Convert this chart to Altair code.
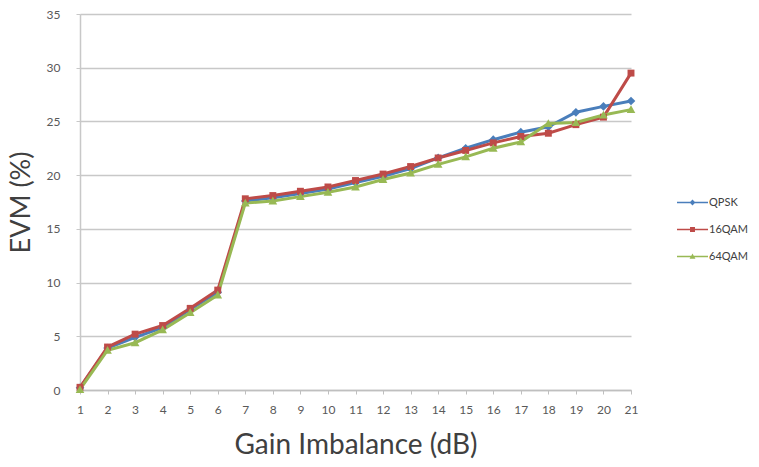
import altair as alt
import pandas as pd

gain_db = list(range(1, 22))
series_names = ["QPSK", "16QAM", "64QAM"]
qpsk = [0.2, 3.9, 4.9, 5.8, 7.5, 9.1, 17.6, 17.9, 18.3, 18.7, 19.3, 19.9, 20.6, 21.6, 22.5, 23.3, 24.0, 24.5, 25.85, 26.4, 26.9]
qam16 = [0.25, 4.0, 5.2, 6.0, 7.6, 9.3, 17.8, 18.1, 18.5, 18.9, 19.5, 20.1, 20.8, 21.6, 22.3, 23.0, 23.6, 23.9, 24.7, 25.4, 29.5]
qam64 = [0.05, 3.7, 4.4, 5.6, 7.2, 8.85, 17.4, 17.6, 18.0, 18.4, 18.9, 19.6, 20.2, 21.0, 21.7, 22.5, 23.1, 24.8, 24.9, 25.6, 26.1]
x_ticks = list(range(1, 22))
y_ticks = [0, 5, 10, 15, 20, 25, 30, 35]

colors = ["#4a7ebb", "#be4b48", "#98b954"]
marker_paths = [
    "M0,-1L1,0L0,1L-1,0Z",
    "M-0.8,-0.8H0.8V0.8H-0.8Z",
    "M0,-1L1,0.8H-1Z",
]
legend_paths = [
    "M-1,-0.045H1V0.045H-1Z M0,-0.19L0.19,0L0,0.19L-0.19,0Z",
    "M-1,-0.045H1V0.045H-1Z M-0.16,-0.16H0.16V0.16H-0.16Z",
    "M-1,-0.045H1V0.045H-1Z M0,-0.19L0.19,0.15H-0.19Z",
]

rows = []
for name, vals in zip(series_names, [qpsk, qam16, qam64]):
    for g, v in zip(gain_db, vals):
        rows.append({"gain": g, "evm": v, "series": name})
df = pd.DataFrame(rows)

FONT = "Lato"
x_enc = alt.X("gain:Q", scale=alt.Scale(domain=[1, 21], nice=False, zero=False),
              axis=alt.Axis(values=x_ticks, title="Gain Imbalance (dB)", grid=False,
                            labelOverlap=False, labelFontSize=12, labelColor="#595959",
                            labelFont=FONT, labelPadding=10, tickSize=4, tickColor="#bfbfbf",
                            domainColor="#bfbfbf", domainWidth=1.5,
                            titleFontSize=28, titleFont=FONT, titleColor="#404040",
                            titleFontWeight="normal", titlePadding=16))
y_enc = alt.Y("evm:Q", scale=alt.Scale(domain=[0, 35], nice=False),
              axis=alt.Axis(values=y_ticks, title="EVM (%)", grid=True,
                            gridColor="#c8c8c8", gridWidth=1.5,
                            labelFontSize=12, labelColor="#595959", labelFont=FONT,
                            labelPadding=16, tickSize=4, tickColor="#c8c8c8",
                            domainColor="#c8c8c8", domainWidth=1.5,
                            titleFontSize=27, titleFont=FONT, titleColor="#404040",
                            titleFontWeight="normal", titlePadding=11))

color_scale = alt.Scale(domain=series_names, range=colors)

lines = alt.Chart(df).mark_line(strokeWidth=3).encode(
    x=x_enc, y=y_enc,
    color=alt.Color("series:N", scale=color_scale, legend=None),
    order=alt.Order("gain:Q"),
)

points = alt.Chart(df).mark_point(filled=True, opacity=1, size=75).encode(
    x=x_enc, y=y_enc,
    color=alt.Color("series:N", scale=color_scale, legend=None),
    shape=alt.Shape("series:N", scale=alt.Scale(domain=series_names, range=marker_paths), legend=None),
)

legend_layer = alt.Chart(df).transform_filter("false").mark_point(filled=True, opacity=1).encode(
    x=x_enc, y=y_enc,
    color=alt.Color("series:N", scale=color_scale,
                    legend=alt.Legend(title=None, orient="none", legendX=597, legendY=173,
                                      symbolSize=961, symbolStrokeWidth=0,
                                      labelFontSize=11, labelFont=FONT, labelColor="#404040",
                                      labelOffset=1, rowPadding=6, padding=0)),
    shape=alt.Shape("series:N", scale=alt.Scale(domain=series_names, range=legend_paths)),
)

chart = alt.layer(lines, points, legend_layer).resolve_scale(
    color="independent", shape="independent"
).properties(
    width=551, height=376,
    autosize=alt.AutoSizeParams(type="none"),
    padding={"left": 80, "top": 14, "right": 128, "bottom": 77},
    background="white",
).configure_view(stroke=None).configure_axisX(labelOverlap=False, labelBound=False, labelFlush=False)

chart.save("out.html", embed_options={"renderer": "svg", "actions": False})
